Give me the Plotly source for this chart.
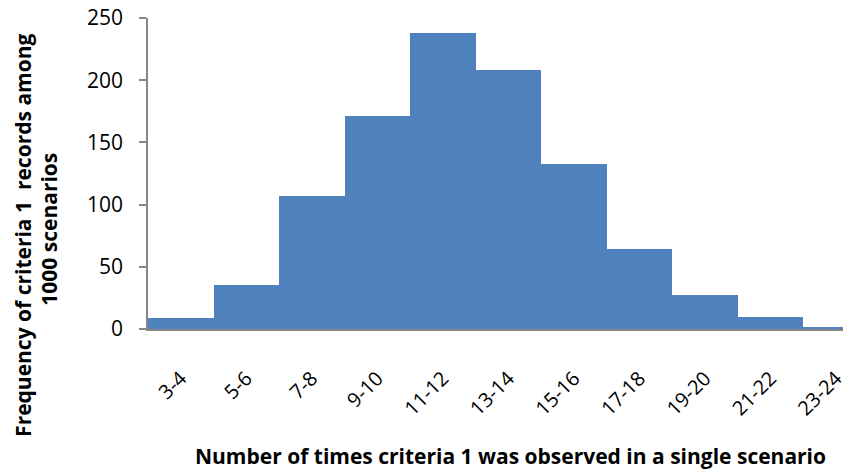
import plotly.graph_objects as go

categories = ["3-4", "5-6", "7-8", "9-10", "11-12", "13-14", "15-16", "17-18", "19-20", "21-22", "23-24"]
frequency = [9, 35, 107, 171, 238, 208, 133, 64, 27, 10, 2]
y_ticks = [0, 50, 100, 150, 200, 250]

fig = go.Figure(go.Bar(
    x=list(range(len(categories))),
    y=frequency,
    marker=dict(color="#4F81BD", line=dict(width=0)),
    width=1.0,
))

fig.update_layout(
    width=848, height=472,
    margin=dict(l=148, r=0, t=18, b=143),
    plot_bgcolor="white", paper_bgcolor="white",
    bargap=0,
    showlegend=False,
    font=dict(family="Open Sans", color="#000000"),
    xaxis=dict(
        range=[-0.5, 10.5 - 26/66],
        tickmode="array",
        tickvals=list(range(len(categories))),
        ticktext=categories,
        tickangle=-45,
        tickfont=dict(size=20, family="Open Sans"),
        ticklabelstandoff=28,
        ticklabeloverflow="allow",
        showline=True, linecolor="#868686", linewidth=1.5,
        ticks="", showgrid=False, zeroline=False,
    ),
    yaxis=dict(
        range=[0, 250],
        tickmode="array",
        tickvals=y_ticks,
        tickfont=dict(size=21, family="Open Sans"),
        showline=True, linecolor="#868686", linewidth=1.5,
        ticks="outside", ticklen=7, tickcolor="#868686", tickwidth=1.5,
        ticklabelstandoff=12,
        showgrid=False, zeroline=False,
    ),
    annotations=[
        dict(text="<b>Frequency of criteria 1  records among</b>",
             xref="paper", yref="paper", x=(22 - 148) / 700, y=(329 - 235) / 311,
             xanchor="center", yanchor="middle", textangle=-90, showarrow=False,
             font=dict(size=21, family="Open Sans")),
        dict(text="<b>1000 scenarios</b>",
             xref="paper", yref="paper", x=(48 - 148) / 700, y=(329 - 229) / 311,
             xanchor="center", yanchor="middle", textangle=-90, showarrow=False,
             font=dict(size=21, family="Open Sans")),
        dict(text="<b>Number of times criteria 1 was observed in a single scenario</b>",
             xref="paper", yref="paper", x=(513 - 148) / 700, y=-(456 - 329) / 311,
             xanchor="center", yanchor="middle", showarrow=False,
             font=dict(size=21, family="Open Sans")),
    ],
)

fig.write_html("out.html")
